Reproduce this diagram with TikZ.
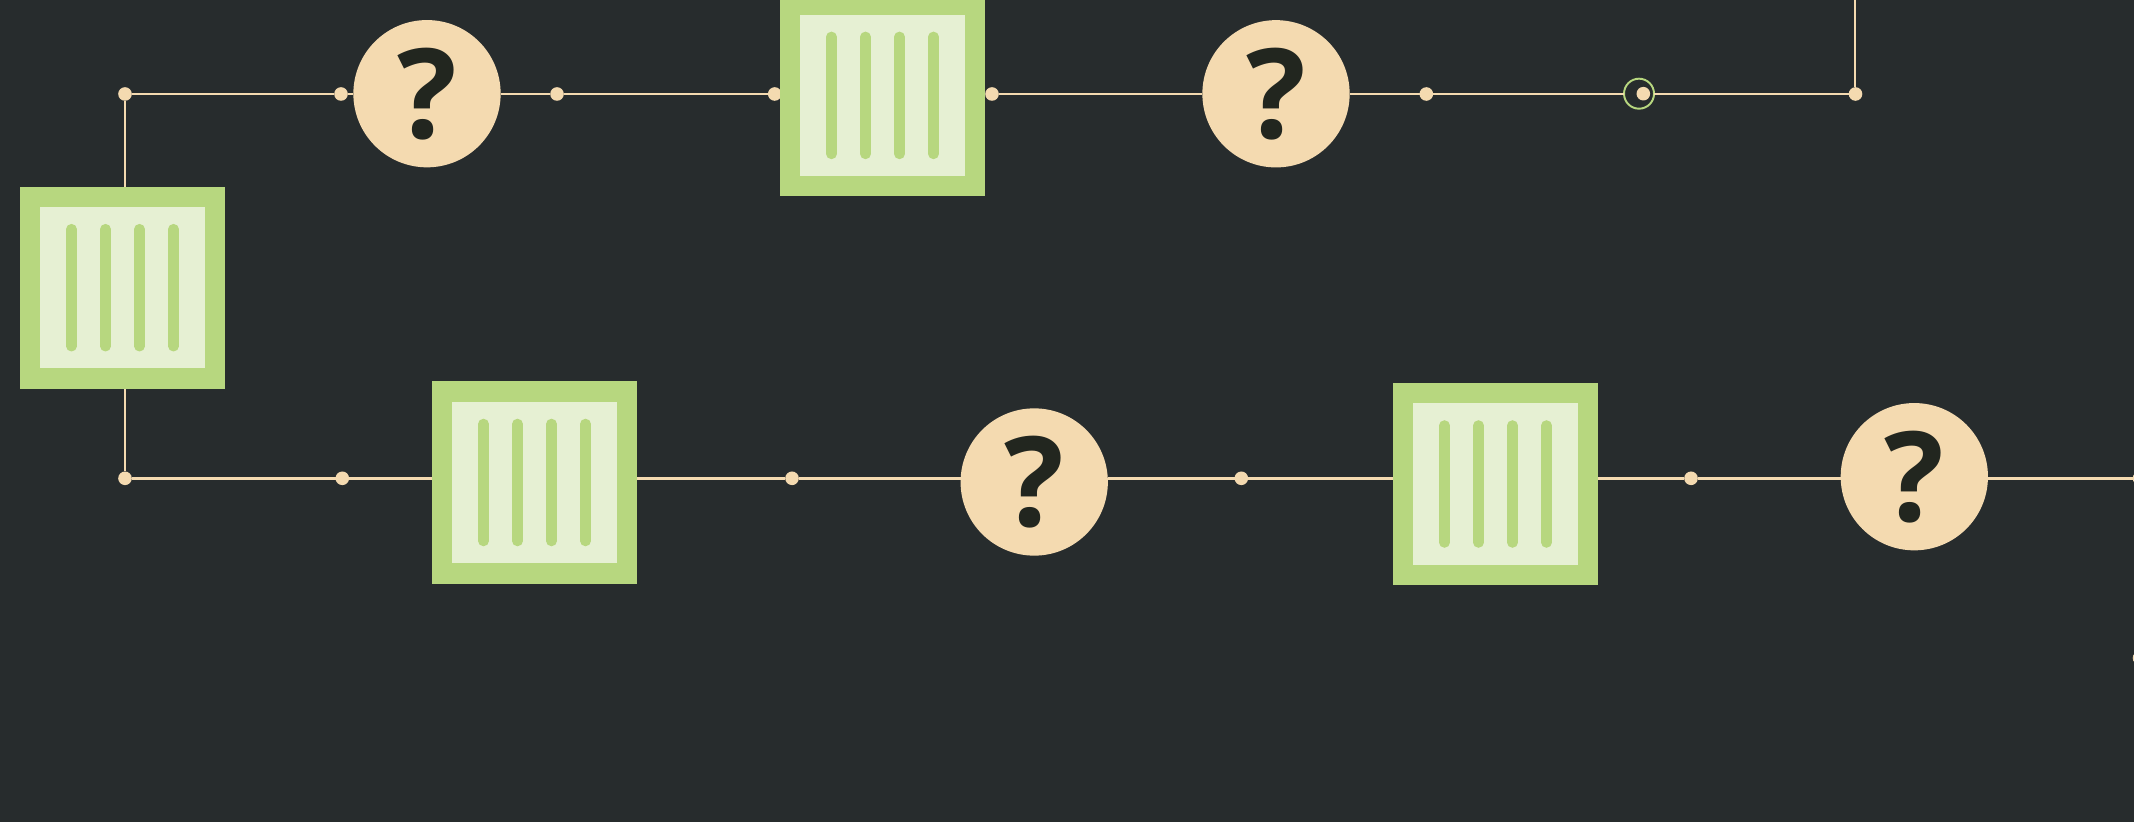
\documentclass[tikz,border=0pt]{standalone}
\usepackage{fontspec}
\usepackage{xcolor}
\setmainfont{Open Sans}
\usetikzlibrary{calc}
\definecolor{flowBack}{HTML}{272C2D}
\definecolor{flowGreen}{HTML}{B7D77F}
\definecolor{flowPale}{HTML}{E6F0D3}
\definecolor{flowCream}{HTML}{F4DAB0}
\definecolor{flowInk}{HTML}{22261F}

\begin{document}
\begin{tikzpicture}[
  x=0.01cm, y=-0.01cm,
  gate/.style={circle, fill=flowCream, minimum size=1.472cm, inner sep=0pt, outer sep=0pt, text=flowInk, font=\fontsize{35.5}{35.5}\selectfont\bfseries},
  joint/.style={circle, fill=flowCream, minimum size=0.136cm, inner sep=0pt, outer sep=0pt},
  ring/.style={circle, draw=flowGreen, fill=flowBack, line width=0.55pt, minimum size=0.3cm, inner sep=0pt, outer sep=0pt},
  link/.style={draw=flowCream, line width=0.8pt},
  crate/.style={rectangle, fill=flowGreen, minimum width=2.056cm, minimum height=2.02cm, inner sep=0pt, outer sep=0pt,
    path picture={
      \fill[flowPale] ($(path picture bounding box.north west)+(0.204cm,-0.204cm)$) rectangle ($(path picture bounding box.south east)+(-0.204cm,0.204cm)$);
      \foreach \dx in {-0.51,-0.17,0.17,0.51}
        \draw[flowGreen, line width=0.105cm, line cap=round] ($(path picture bounding box.center)+(\dx cm,0.585cm)$) -- ($(path picture bounding box.center)+(\dx cm,-0.585cm)$);
    }}
]
\fill[flowBack] (0,0) rectangle (2134,822);
\clip (0,0) rectangle (2134,822);

% joints on the two runs
\node[joint] (topleft) at (125,94) {};
\node[joint] (j1) at (341,94) {};
\node[joint] (j2) at (557,94) {};
\node[joint] (j3) at (774.7,94) {};
\node[joint] (j4) at (992,94) {};
\node[joint] (j5) at (1426.3,94) {};
\node[joint] (topright) at (1855.5,94) {};
\node[joint] (lowleft) at (125,478.3) {};
\node[joint] (k1) at (342.3,478.3) {};
\node[joint] (k2) at (792,478.3) {};
\node[joint] (k3) at (1241.3,478.3) {};
\node[joint] (k4) at (1691,478.3) {};
\node[joint] (edge1) at (2139.5,478.3) {};
\node[joint] (edge2) at (2139.5,658) {};
\coordinate (exit) at (1855,0);

% crates and gates
\node[crate] (c1) at (122.5,287.7) {};
\node[crate] (c2) at (882.5,95.4) {};
\node[crate] (c3) at (534.5,482.5) {};
\node[crate] (c4) at (1495.5,484) {};
\node[gate] (g1) at (427,93.7) {\raisebox{-0.4pt}{?}};
\node[gate] (g2) at (1276,93.8) {\raisebox{-0.4pt}{?}};
\node[gate] (g3) at (1034.2,482) {\raisebox{-0.4pt}{?}};
\node[gate] (g4) at (1914.3,476.7) {\raisebox{-0.4pt}{?}};
\node[ring] (target) at (1639,93.7) {};
\node[joint] (probe) at (1643.3,93.7) {};

\draw[link] (c1.north -| topleft) -- (topleft);
\draw[link] (topleft) -- (j1);
\draw[link] (j1) -- (g1.west |- j1);
\draw[link] (g1.east |- j2) -- (j2);
\draw[link] (j2) -- (j3);
\draw[link] (j4) -- (g2.west |- j4);
\draw[link] (g2.east |- j5) -- (j5);
\draw[link] (j5) -- (target.west |- j5);
\draw[link] (target.east |- topright) -- (topright);
\draw[link] (topright.north -| exit) -- (exit);
\draw[link] (c1.south -| lowleft) -- (lowleft);
\draw[link] (lowleft) -- (k1);
\draw[link] (k1) -- (c3.west |- k1);
\draw[link] (c3.east |- k2) -- (k2);
\draw[link] (k2) -- (g3.west |- k2);
\draw[link] (g3.east |- k3) -- (k3);
\draw[link] (k3) -- (c4.west |- k3);
\draw[link] (c4.east |- k4) -- (k4);
\draw[link] (k4) -- (g4.west |- k4);
\draw[link] (g4.east |- edge1) -- (edge1);
\end{tikzpicture}
\end{document}
